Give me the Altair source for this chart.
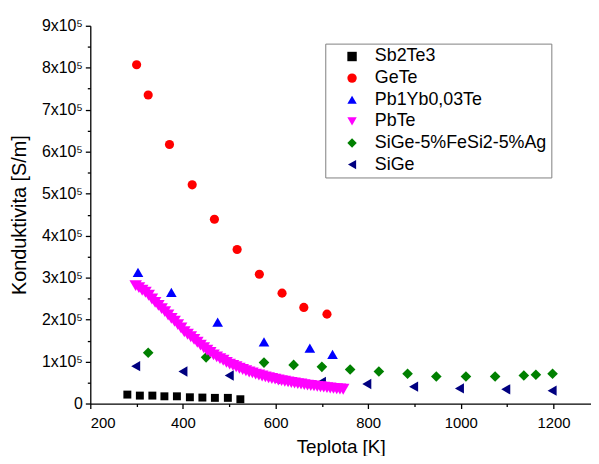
import altair as alt
import pandas as pd

FONT = "Liberation Sans"

series_names = ["Sb2Te3", "GeTe", "Pb1Yb0,03Te", "PbTe", "SiGe-5%FeSi2-5%Ag", "SiGe"]
series_colors = ["#000000", "#ff0000", "#0000ff", "#ff00ff", "#008000", "#000080"]
series_shapes = ["square", "circle", "triangle-up", "triangle-down", "diamond", "triangle-left"]
series_sizes = [64, 85, 115, 160, 115, 110]

sb2te3_T = [280, 307, 334, 360, 387, 415, 442, 469, 497, 524]
sb2te3_s = [21300, 18900, 18900, 17200, 17200, 14900, 14200, 13500, 13500, 10200]

gete_T = [300, 325, 371, 420, 468, 517, 565, 614, 661, 711]
gete_s = [807000, 735000, 617000, 521000, 439000, 367000, 308000, 263000, 229000, 213000]

pbyb_T = [303, 375, 475, 575, 674, 723]
pbyb_s = [312500, 265000, 194000, 147000, 132000, 117000]

pbte_T = [298, 305, 312, 319, 326, 333, 340, 347, 354, 361, 368, 375, 382, 389, 396,
          403, 410, 417, 424, 431, 438, 445, 452, 459, 466, 473, 480, 487, 494, 501,
          508, 515, 522, 529, 536, 543, 550, 557, 564, 571, 578, 585, 592, 599, 606,
          613, 620, 627, 634, 641, 648, 655, 662, 669, 676, 683, 690, 697, 704, 711,
          718, 725, 732, 739, 746]
pbte_s = [281000, 276000, 270000, 265000, 258000, 249000, 241000, 234000, 226000, 219000,
          211000, 203000, 196000, 188000, 180000, 171000, 165000, 159000, 153000, 146000,
          139000, 133000, 127000, 122000, 116000, 111000, 107000, 103000, 98000, 94000,
          91000, 87500, 84000, 81000, 78000, 75000, 73000, 70000, 68000, 65500,
          63500, 61500, 59500, 58000, 56000, 54500, 53000, 51500, 50000, 49000,
          47500, 46500, 45000, 44000, 43000, 42000, 41000, 40000, 39000, 38000,
          37000, 36000, 35300, 34700, 34000]

sigefe_T = [325, 450, 575, 639, 700, 761, 823, 885, 947, 1011, 1074, 1136, 1162, 1198]
sigefe_s = [121000, 110000, 97600, 92000, 87400, 81000, 76300, 71000, 64500, 64500,
            64500, 66800, 68500, 70900]

sige_T = [298, 400, 500, 599, 699, 797, 898, 997, 1097, 1197]
sige_s = [89000, 76300, 66900, 58300, 51300, 46500, 40200, 36100, 33800, 30700]

x_major = [200, 400, 600, 800, 1000, 1200]
x_minor = [300, 500, 700, 900, 1100]
y_major = [0, 100000, 200000, 300000, 400000, 500000, 600000, 700000, 800000, 900000]
y_minor = [50000, 150000, 250000, 350000, 450000, 550000, 650000, 750000, 850000]

rows = []
for i, (name, Ts, ss) in enumerate([
    ("Sb2Te3", sb2te3_T, sb2te3_s),
    ("GeTe", gete_T, gete_s),
    ("Pb1Yb0,03Te", pbyb_T, pbyb_s),
    ("PbTe", pbte_T, pbte_s),
    ("SiGe-5%FeSi2-5%Ag", sigefe_T, sigefe_s),
    ("SiGe", sige_T, sige_s),
]):
    for t, s in zip(Ts, ss):
        rows.append({"T": t, "sigma": s, "series": name, "sz": series_sizes[i],
                     "order": 5 - i})
df = pd.DataFrame(rows)

x_scale = alt.Scale(domain=[200, 1281], nice=False, zero=False)
y_scale = alt.Scale(domain=[0, 900000], nice=False)

label_expr = "datum.value == 0 ? '0' : format(datum.value / 100000, 'd') + 'x10\u2075'"

points = alt.Chart(df).mark_point(filled=True, opacity=1, strokeWidth=0).encode(
    x=alt.X("T:Q", scale=x_scale,
            axis=alt.Axis(values=x_major, title="Teplota [K]", grid=False, format="d",
                          tickSize=5, labelPadding=7, titlePadding=7,
                          labelFontSize=15, titleFontSize=19, titleFontWeight="normal")),
    y=alt.Y("sigma:Q", scale=y_scale,
            axis=alt.Axis(values=y_major, title="Konduktivita [S/m]", grid=False,
                          tickSize=5, labelPadding=3, titlePadding=12,
                          labelExpr=label_expr,
                          labelFontSize=16, titleFontSize=20, titleFontWeight="normal")),
    color=alt.Color("series:N", scale=alt.Scale(domain=series_names, range=series_colors),
                    legend=alt.Legend(title=None, orient="none", legendX=237, legendY=18,
                                      padding=4, symbolOffset=14, labelOffset=14,
                                      labelFontSize=18, rowPadding=3.8, labelLimit=0,
                                      symbolSize=90,
                                      strokeColor="#808080", fillColor="white",
                                      labelFont=FONT, symbolStrokeWidth=0)),
    shape=alt.Shape("series:N", scale=alt.Scale(domain=series_names, range=series_shapes)),
    size=alt.Size("sz:Q", scale=None, legend=None),
    order=alt.Order("order:Q"),
)

minor = alt.Chart(pd.DataFrame({"T": [300], "sigma": [50000]})).mark_point(opacity=0).encode(
    x=alt.X("T:Q", scale=x_scale,
            axis=alt.Axis(orient="bottom", values=x_minor, labels=False, title=None,
                          tickSize=3, domain=False, grid=False)),
    y=alt.Y("sigma:Q", scale=y_scale,
            axis=alt.Axis(orient="left", values=y_minor, labels=False, title=None,
                          tickSize=3, domain=False, grid=False)),
)

chart = alt.layer(points, minor).resolve_axis(x="independent", y="independent").properties(
    width=505, height=381,
    padding={"left": 83, "top": 16, "right": 0, "bottom": 51},
    autosize=alt.AutoSizeParams(type="none"),
).configure_view(stroke=None).configure_axis(
    labelFont=FONT, titleFont=FONT, domainColor="black", tickColor="black",
    labelColor="black", titleColor="black", domainWidth=1.3, tickWidth=1.3,
).configure_legend(labelFont=FONT)

chart.save("out.html", embed_options={"renderer": "svg", "actions": False})
